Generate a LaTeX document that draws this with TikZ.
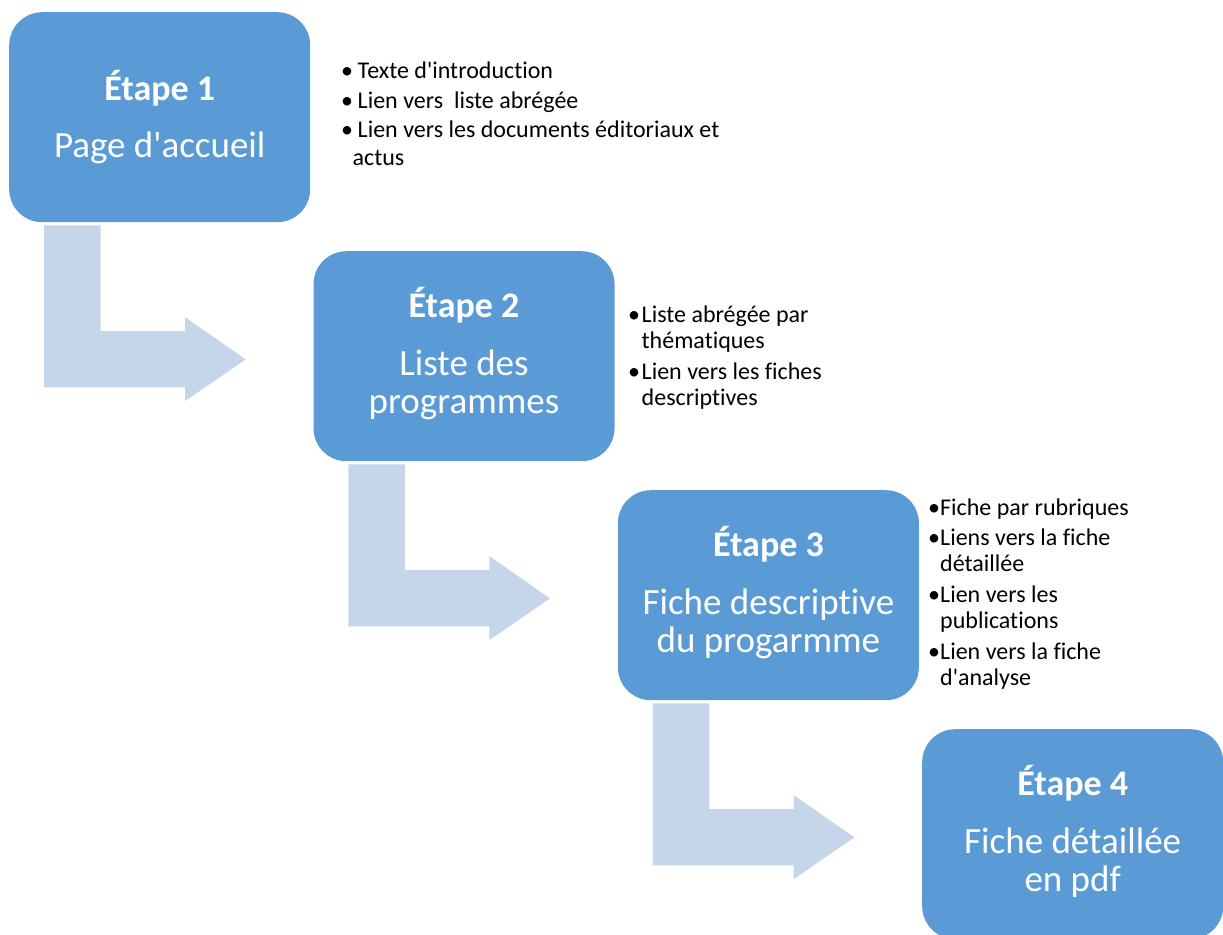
\documentclass[tikz,border=0pt]{standalone}
\usepackage{fontspec}
\setmainfont{Carlito}[Ligatures={NoCommon}]
\usetikzlibrary{calc}
\definecolor{stepblue}{RGB}{91,155,213}
\definecolor{arrowblue}{RGB}{197,213,234}
\newcommand{\apos}{\textquotesingle}
\begin{document}
\begin{tikzpicture}[x=1pt,y=-1pt,
  stepbox/.style={fill=stepblue, draw=none, rounded corners=33pt,
    minimum width=301pt, minimum height=210pt, inner sep=0pt, anchor=north west},
  steptitle/.style={text=white, inner sep=0pt, anchor=base,
    font=\fontsize{36}{36}\selectfont\bfseries},
  steptext/.style={text=white, inner sep=0pt, anchor=base,
    font=\fontsize{37}{37}\selectfont},
  itemtext/.style={inner sep=0pt, anchor=base west,
    font=\fontsize{24}{24}\selectfont},
  itembullet/.style={inner sep=0pt, anchor=base,
    font=\fontsize{24}{24}\selectfont},
  pics/bendarrow/.style={code={
    \fill[arrowblue] (0,0) -- ++(56.7,0) -- ++(0,105.7) -- ++(84.3,0)
      -- ++(0,-14) -- ++(60.7,42.3) -- ++(-60.7,41.7) -- ++(0,-13.7)
      -- ++(-141,0) -- cycle;}}]
\useasboundingbox (0,0) rectangle (1223,934);
\clip (0,0) rectangle (1223,934);

% step boxes
\node[stepbox] (s1) at (9,12) {};
\node[stepbox] (s2) at (313.3,251) {};
\node[stepbox] (s3) at (617.7,490) {};
\node[stepbox] (s4) at (922,729) {};

% bent arrows leading from one step to the next
\pic at ($(s1.south west)+(35,3)$) {bendarrow};
\pic at ($(s2.south west)+(35,3)$) {bendarrow};
\pic at ($(s3.south west)+(35,3)$) {bendarrow};

% step titles
\node[steptitle] (t1) at ($(s1.north)+(0,88)$) {Étape 1};
\node[steptext]  (t1a) at ($(s1.north)+(0,145.5)$) {Page d\apos accueil};

\node[steptitle] (t2) at ($(s2.north)+(0,66)$) {Étape 2};
\node[steptext]  (t2a) at ($(s2.north)+(0,124)$) {Liste des};
\node[steptext]  (t2b) at ($(s2.north)+(0,162)$) {programmes};

\node[steptitle] (t3) at ($(s3.north)+(0,66)$) {Étape 3};
\node[steptext]  (t3a) at ($(s3.north)+(0,124)$) {Fiche descriptive};
\node[steptext]  (t3b) at ($(s3.north)+(0,162)$) {du progarmme};

\node[steptitle] (t4) at ($(s4.north)+(0,66)$) {Étape 4};
\node[steptext]  (t4a) at ($(s4.north)+(0,124)$) {Fiche détaillée};
\node[steptext]  (t4b) at ($(s4.north)+(0,162)$) {en pdf};

% notes for step 1
\node[itembullet] (b1) at (347,78) {•};
\node[itemtext] (n1) at (357.5,78) {Texte d\apos introduction};
\node[itembullet] (b2) at (347,108) {•};
\node[itemtext] (n2) at (357.5,108) {Lien vers~ liste abrégée};
\node[itembullet] (b3) at (347,137) {•};
\node[itemtext] (n3) at (357.5,137) {Lien vers les documents éditoriaux et};
\node[itemtext] (n3b) at (352.5,165) {actus};

% notes for step 2
\node[itembullet] (b4) at (634,322) {•};
\node[itemtext] (n4) at (641.5,322) {Liste abrégée par};
\node[itemtext] (n4b) at (641.5,348) {thématiques};
\node[itembullet] (b5) at (634,379) {•};
\node[itemtext] (n5) at (641.5,379) {Lien vers les fiches};
\node[itemtext] (n5b) at (641.5,405) {descriptives};

% notes for step 3
\node[itembullet] (b6) at (934,515) {•};
\node[itemtext] (n6) at (940,515) {Fiche par rubriques};
\node[itembullet] (b7) at (934,545) {•};
\node[itemtext] (n7) at (940,545) {Liens vers la fiche};
\node[itemtext] (n7b) at (940,571) {détaillée};
\node[itembullet] (b8) at (934,602) {•};
\node[itemtext] (n8) at (940,602) {Lien vers les};
\node[itemtext] (n8b) at (940,628) {publications};
\node[itembullet] (b9) at (934,659) {•};
\node[itemtext] (n9) at (940,659) {Lien vers la fiche};
\node[itemtext] (n9b) at (940,685) {d\apos analyse};
\end{tikzpicture}
\end{document}
